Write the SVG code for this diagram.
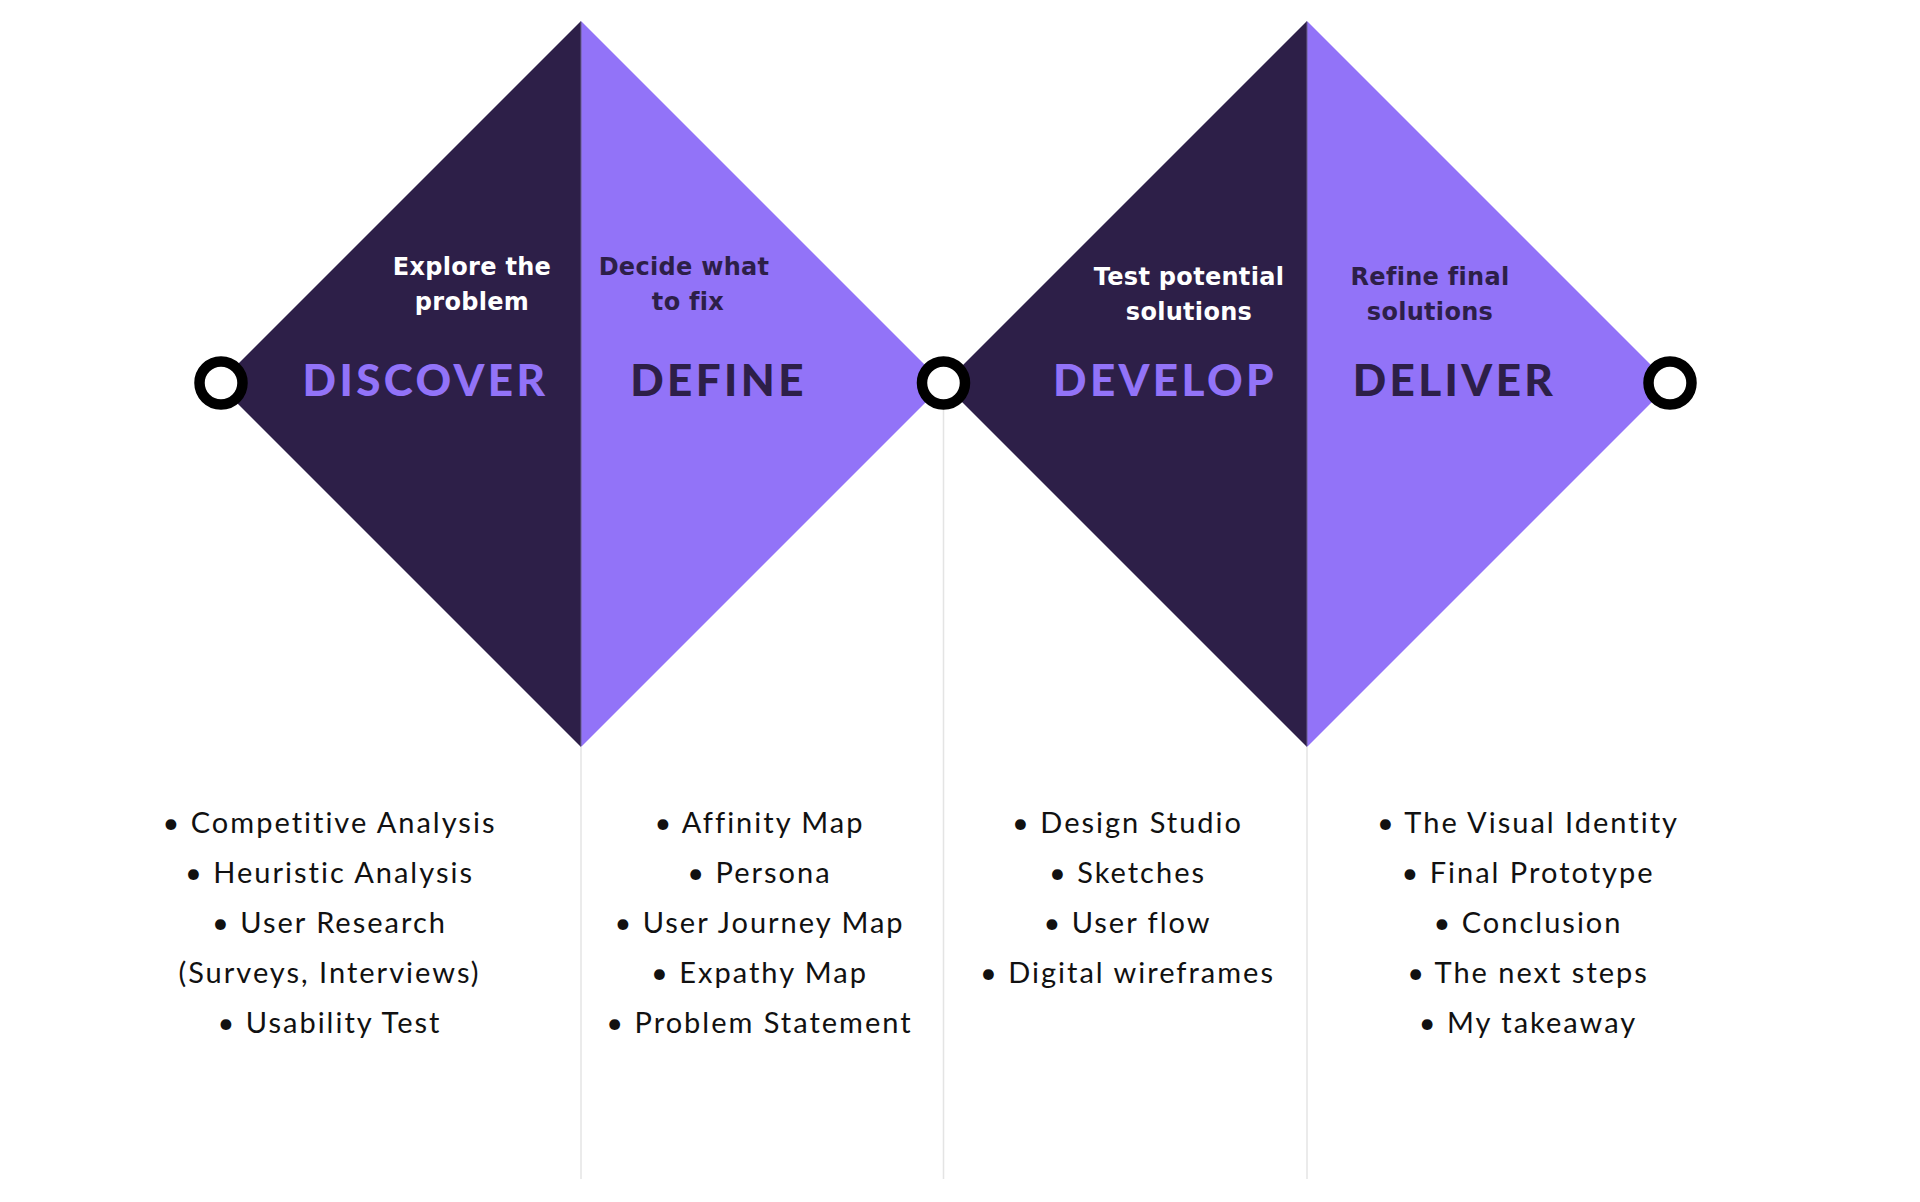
<svg xmlns="http://www.w3.org/2000/svg" width="1920" height="1202" viewBox="0 0 1920 1202">
<style>
.dark{fill:#2d1f48}
.light{fill:#9273f8}
.title{font-family:Lato,"Liberation Sans",sans-serif;font-weight:900;font-size:44px;letter-spacing:3.4px;text-anchor:middle}
.sub{font-family:"DejaVu Sans","Liberation Sans",sans-serif;font-weight:700;font-size:24px;letter-spacing:0.3px;text-anchor:middle}
.list{font-family:Lato,"Liberation Sans",sans-serif;font-weight:400;font-size:29px;letter-spacing:2px;text-anchor:middle;fill:#111111}
.guide{stroke:#e4e4e4;stroke-width:1.5;fill:none}
.split{stroke:#6a6190;stroke-width:1;fill:none}
.dot{fill:#ffffff;stroke:#000000;stroke-width:10.5}
</style>
<rect width="1920" height="1202" fill="#ffffff"/>
<g id="connectors">
<line class="guide" x1="581" y1="747" x2="581" y2="1179"/>
<line class="guide" x1="943.5" y1="405" x2="943.5" y2="1179"/>
<line class="guide" x1="1307" y1="747" x2="1307" y2="1179"/>
</g>
<g id="discover">
<polygon class="dark" points="218,384 581,21 581,747"/>
<text class="sub" fill="#ffffff" x="472" y="275">Explore the</text>
<text class="sub" fill="#ffffff" x="472" y="310">problem</text>
<text class="title" fill="#9273f8" x="425.5" y="396">DISCOVER</text>
<text class="list" x="329.5" y="833">• Competitive Analysis</text>
<text class="list" x="329.5" y="883">• Heuristic Analysis</text>
<text class="list" x="329.5" y="933">• User Research</text>
<text class="list" x="329.5" y="983">(Surveys, Interviews)</text>
<text class="list" x="329.5" y="1033">• Usability Test</text>
</g>
<g id="define">
<polygon class="light" points="581,21 944,384 581,747"/>
<text class="sub" fill="#2d1f48" x="684" y="275">Decide what</text>
<text class="sub" fill="#2d1f48" x="688" y="310">to fix</text>
<text class="title" fill="#2d1f48" x="718.5" y="396">DEFINE</text>
<text class="list" x="759.5" y="833">• Affinity Map</text>
<text class="list" x="759.5" y="883">• Persona</text>
<text class="list" x="759.5" y="933">• User Journey Map</text>
<text class="list" x="759.5" y="983">• Expathy Map</text>
<text class="list" x="759.5" y="1033">• Problem Statement</text>
</g>
<g id="develop">
<polygon class="dark" points="944,384 1307,21 1307,747"/>
<text class="sub" fill="#ffffff" x="1189" y="285">Test potential</text>
<text class="sub" fill="#ffffff" x="1189" y="320">solutions</text>
<text class="title" fill="#9273f8" x="1165" y="396">DEVELOP</text>
<text class="list" x="1127.5" y="833">• Design Studio</text>
<text class="list" x="1127.5" y="883">• Sketches</text>
<text class="list" x="1127.5" y="933">• User flow</text>
<text class="list" x="1127.5" y="983">• Digital wireframes</text>
</g>
<g id="deliver">
<polygon class="light" points="1307,21 1670,384 1307,747"/>
<text class="sub" fill="#2d1f48" x="1430" y="285">Refine final</text>
<text class="sub" fill="#2d1f48" x="1430" y="320">solutions</text>
<text class="title" fill="#2d1f48" x="1454.5" y="396">DELIVER</text>
<text class="list" x="1528" y="833">• The Visual Identity</text>
<text class="list" x="1528" y="883">• Final Prototype</text>
<text class="list" x="1528" y="933">• Conclusion</text>
<text class="list" x="1528" y="983">• The next steps</text>
<text class="list" x="1528" y="1033">• My takeaway</text>
</g>
<g id="splits">
<line class="split" x1="581" y1="22" x2="581" y2="746"/>
<line class="split" x1="1307" y1="22" x2="1307" y2="746"/>
</g>
<g id="start-point"><circle class="dot" cx="221" cy="383" r="21.5"/></g>
<g id="mid-point"><circle class="dot" cx="943.5" cy="383" r="21.5"/></g>
<g id="end-point"><circle class="dot" cx="1670" cy="383" r="21.5"/></g>
</svg>
